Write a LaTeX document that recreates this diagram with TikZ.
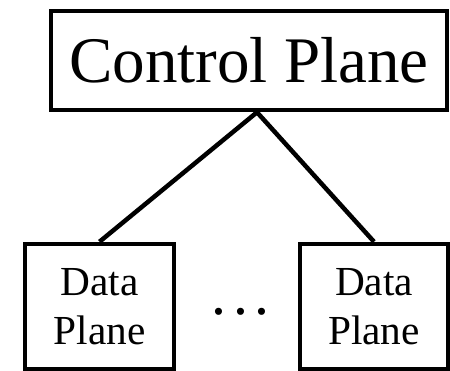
\documentclass[tikz,border=0pt]{standalone}
\usepackage{fontspec}
\setmainfont{Liberation Serif}
\usepackage{tikz}

\tikzset{
  plane/.style={draw=black, line width=0.09cm, inner sep=0pt, align=center},
  link/.style={black, line width=0.09cm},
}

\begin{document}
\begin{tikzpicture}
    \useasboundingbox (0cm,0cm) rectangle (9cm,7.42cm);
    \node[plane, minimum width=7.92cm, minimum height=1.98cm, font=\fontsize{37}{44}\selectfont] (cp) at (4.98cm, 6.21cm) {Control Plane};
    \node[plane, minimum width=2.98cm, minimum height=2.5cm, font=\fontsize{23.5}{28}\selectfont] (dp1) at (1.99cm, 1.29cm) {Data\\Plane};
    \node[plane, minimum width=2.96cm, minimum height=2.5cm, font=\fontsize{23.5}{28}\selectfont] (dpn) at (7.48cm, 1.29cm) {Data\\Plane};
    \node[inner sep=0pt, font=\fontsize{34}{40}\selectfont] (gap) at (4.81cm, 1.18cm) {.\kern0.11em.\kern0.11em.};
    \coordinate (hub) at ([xshift=0.16cm]cp.south);
    \draw[link] (hub) -- (dp1.north);
    \draw[link] (hub) -- (dpn.north);
\end{tikzpicture}
\end{document}
